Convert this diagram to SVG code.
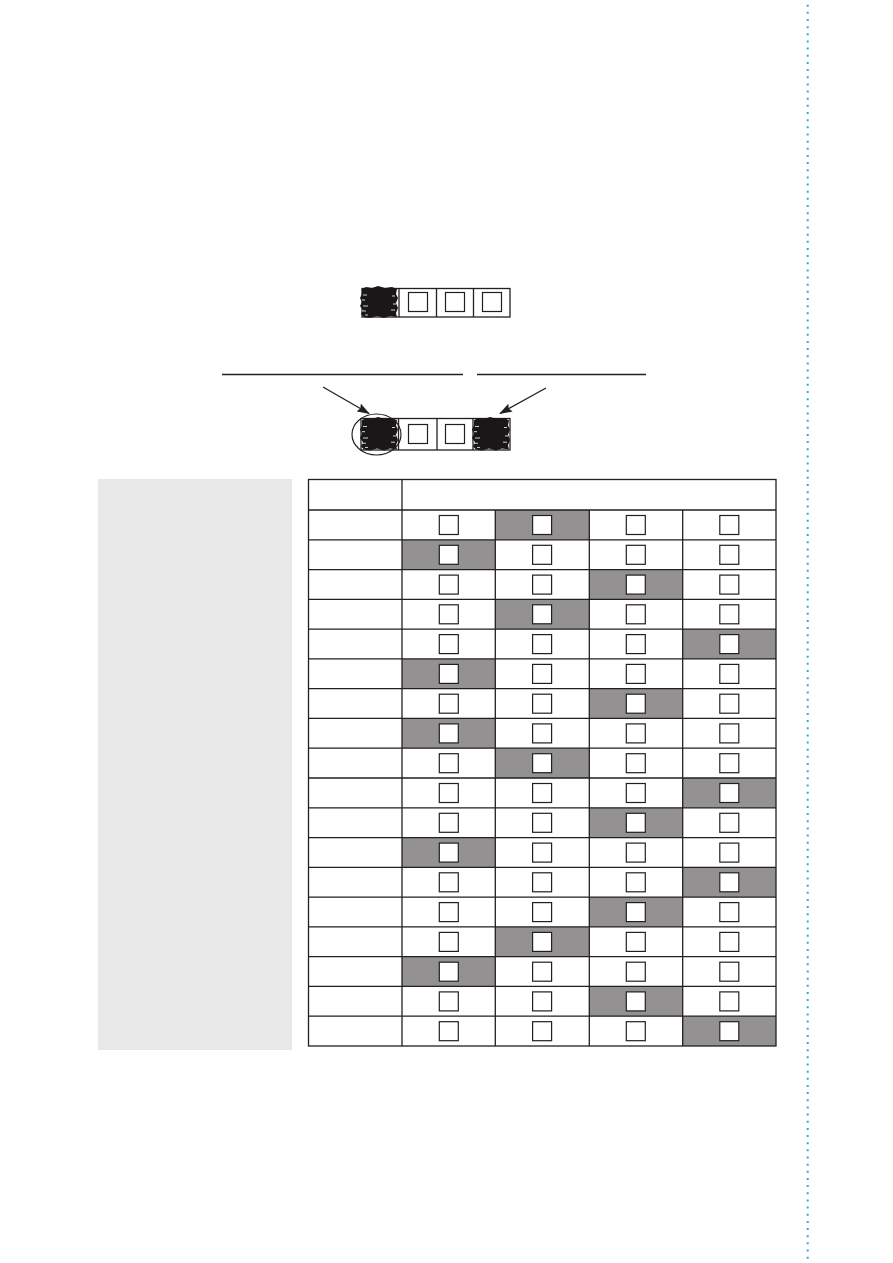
<svg xmlns="http://www.w3.org/2000/svg" width="893" height="1263" viewBox="0 0 893 1263">
<defs>
<style>
.ln{stroke:#231f20;stroke-width:1.3;fill:none}
.cell{fill:#fff;stroke:#231f20;stroke-width:1.3}
.sq{fill:#fff;stroke:#231f20;stroke-width:1.2}
.sh{fill:#939192}
.blob{fill:#1a1718}
.spk{stroke:#fff;stroke-width:0.8}
</style>
<marker id="ah" markerWidth="13" markerHeight="9" refX="12" refY="4.5" orient="auto" markerUnits="userSpaceOnUse">
<path d="M0,0 L13,4.5 L0,9 L2,4.5 Z" fill="#231f20"/>
</marker>
<g id="blobshape">
<path class="blob" d="M2,3 L6,1 L12,2 L18,0 L25,2 L32,1 L37,3 L36,8 L38,12 L36,17 L38,22 L36,27 L37,31 L30,30 L24,32 L17,30 L10,32 L4,31 L1,28 L3,24 L0,20 L2,16 L0,12 L2,8 Z"/>
<path class="spk" d="M3,9 h4 M2,14 h3 M3,20 h5 M2,25 h4 M32,10 h3 M33,18 h3 M31,24 h4 M5,29 h3"/>
</g>
</defs>
<rect width="893" height="1263" fill="#fff"/>

<g id="border">
<line x1="807.7" y1="4.7" x2="807.7" y2="1260" stroke="#29abe2" stroke-width="2" stroke-dasharray="2 5.154"/>
</g>

<g id="strip1">
<rect class="cell" x="362" y="288.5" width="148" height="28.5"/>
<line class="ln" x1="399" y1="288.5" x2="399" y2="317"/>
<line class="ln" x1="436.5" y1="288.5" x2="436.5" y2="317"/>
<line class="ln" x1="473.5" y1="288.5" x2="473.5" y2="317"/>
<rect class="sq" x="408.5" y="292.5" width="19" height="19"/>
<rect class="sq" x="445.5" y="292.5" width="19" height="19"/>
<rect class="sq" x="482.5" y="292.5" width="19" height="19"/>
<use href="#blobshape" x="360" y="286"/>
</g>

<g id="labels-lines">
<line class="ln" x1="222" y1="374.5" x2="463" y2="374.5"/>
<line class="ln" x1="477" y1="374.5" x2="646" y2="374.5"/>
</g>

<g id="connectors">
<line class="ln" x1="323" y1="387" x2="369" y2="413.5" marker-end="url(#ah)" stroke-width="1.6"/>
<line class="ln" x1="546" y1="388" x2="500" y2="413.5" marker-end="url(#ah)" stroke-width="1.6"/>
</g>

<g id="strip2">
<rect class="cell" x="361" y="418.5" width="149" height="31.5"/>
<line class="ln" x1="398.5" y1="418.5" x2="398.5" y2="450"/>
<line class="ln" x1="437" y1="418.5" x2="437" y2="450"/>
<line class="ln" x1="473" y1="418.5" x2="473" y2="450"/>
<rect class="sq" x="408.5" y="424.5" width="19" height="19"/>
<rect class="sq" x="445.5" y="424.5" width="19" height="19"/>
<use href="#blobshape" transform="translate(360,417) scale(1,1.05)"/>
<use href="#blobshape" transform="translate(472,417) scale(1,1.05)"/>
<ellipse cx="376.5" cy="434.5" rx="24.5" ry="20.5" fill="none" stroke="#231f20" stroke-width="1.2"/>
</g>

<g id="panel">
<rect x="98" y="479" width="194" height="571" fill="#e8e8e8"/>
</g>

<g id="table">
<g id="shading">
<rect class="sh" x="495" y="510" width="94" height="29.8"/>
<rect class="sh" x="402" y="539.8" width="93" height="29.8"/>
<rect class="sh" x="589" y="569.6" width="93.5" height="29.8"/>
<rect class="sh" x="495" y="599.3" width="94" height="29.8"/>
<rect class="sh" x="682.5" y="629.1" width="93.5" height="29.8"/>
<rect class="sh" x="402" y="658.9" width="93" height="29.8"/>
<rect class="sh" x="589" y="688.7" width="93.5" height="29.8"/>
<rect class="sh" x="402" y="718.4" width="93" height="29.8"/>
<rect class="sh" x="495" y="748.2" width="94" height="29.8"/>
<rect class="sh" x="682.5" y="778" width="93.5" height="29.8"/>
<rect class="sh" x="589" y="807.8" width="93.5" height="29.8"/>
<rect class="sh" x="402" y="837.6" width="93" height="29.8"/>
<rect class="sh" x="682.5" y="867.3" width="93.5" height="29.8"/>
<rect class="sh" x="589" y="897.1" width="93.5" height="29.8"/>
<rect class="sh" x="495" y="926.9" width="94" height="29.8"/>
<rect class="sh" x="402" y="956.7" width="93" height="29.8"/>
<rect class="sh" x="589" y="986.4" width="93.5" height="29.8"/>
<rect class="sh" x="682.5" y="1016.2" width="93.5" height="29.8"/>
</g>
<g id="grid" class="ln">
<rect x="308.5" y="479.5" width="467.5" height="566.5"/>
<line x1="402" y1="479.5" x2="402" y2="1046"/>
<line x1="495.3" y1="510" x2="495.3" y2="1046"/>
<line x1="589.3" y1="510" x2="589.3" y2="1046"/>
<line x1="682.7" y1="510" x2="682.7" y2="1046"/>
<path d="M308.5,510 H776 M308.5,539.8 H776 M308.5,569.6 H776 M308.5,599.3 H776 M308.5,629.1 H776 M308.5,658.9 H776 M308.5,688.7 H776 M308.5,718.4 H776 M308.5,748.2 H776 M308.5,778 H776 M308.5,807.8 H776 M308.5,837.6 H776 M308.5,867.3 H776 M308.5,897.1 H776 M308.5,926.9 H776 M308.5,956.7 H776 M308.5,986.4 H776 M308.5,1016.2 H776"/>
</g>
<g id="boxes">
<g id="col1"><rect class="sq" x="439.3" y="515.5" width="19" height="19"/><rect class="sq" x="439.3" y="545.3" width="19" height="19"/><rect class="sq" x="439.3" y="575.1" width="19" height="19"/><rect class="sq" x="439.3" y="604.8" width="19" height="19"/><rect class="sq" x="439.3" y="634.6" width="19" height="19"/><rect class="sq" x="439.3" y="664.4" width="19" height="19"/><rect class="sq" x="439.3" y="694.2" width="19" height="19"/><rect class="sq" x="439.3" y="723.9" width="19" height="19"/><rect class="sq" x="439.3" y="753.7" width="19" height="19"/><rect class="sq" x="439.3" y="783.5" width="19" height="19"/><rect class="sq" x="439.3" y="813.3" width="19" height="19"/><rect class="sq" x="439.3" y="843.1" width="19" height="19"/><rect class="sq" x="439.3" y="872.8" width="19" height="19"/><rect class="sq" x="439.3" y="902.6" width="19" height="19"/><rect class="sq" x="439.3" y="932.4" width="19" height="19"/><rect class="sq" x="439.3" y="962.2" width="19" height="19"/><rect class="sq" x="439.3" y="991.9" width="19" height="19"/><rect class="sq" x="439.3" y="1021.7" width="19" height="19"/></g>
<use href="#col1" x="93.3"/>
<use href="#col1" x="187"/>
<use href="#col1" x="280.5"/>
</g>
</g>
</svg>
